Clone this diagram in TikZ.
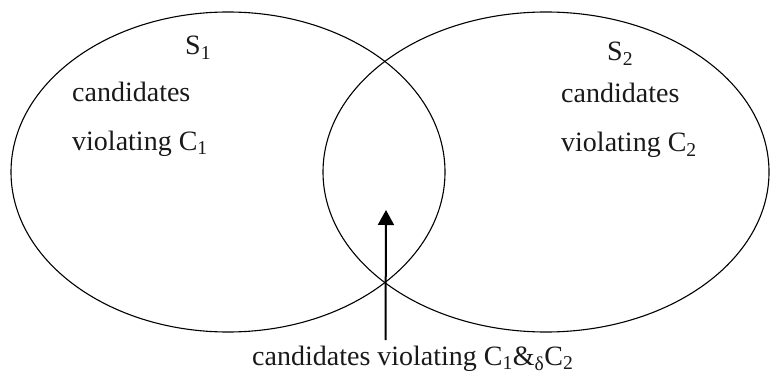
\documentclass[tikz,border=0pt]{standalone}
\usepackage{fontspec}
\setmainfont{Liberation Serif}
\usetikzlibrary{shapes.geometric,arrows.meta}
\begin{document}
\begin{tikzpicture}[x=1pt,y=-1pt,
  setshape/.style={draw, ellipse, inner sep=0pt, line width=1.1pt},
  lbl/.style={anchor=base west, inner sep=0pt, font=\fontsize{28}{30}\selectfont, text=black!90},
  pointer/.style={line width=2pt, -{Triangle[length=15pt,width=16pt]}}]
\useasboundingbox (0,0) rectangle (770,374);
\node[setshape, minimum width=434pt, minimum height=320pt] (left) at (228,172) {};
\node[setshape, minimum width=446pt, minimum height=320pt] (right) at (546,172) {};
\node[lbl] (s1) at (185,55) {S\textsubscript{1}};
\node[lbl] (c1a) at (72,102) {candidates};
\node[lbl] (c1b) at (72,150) {violating C\textsubscript{1}};
\node[lbl] (s2) at (607,61) {S\textsubscript{2}};
\node[lbl] (c2a) at (561,103) {candidates};
\node[lbl] (c2b) at (561,152) {violating C\textsubscript{2}};
\node[lbl] (both) at (252,365) {candidates violating C\textsubscript{1}\&\textsubscript{δ}C\textsubscript{2}};
\coordinate (tail) at (385.5,340);
\coordinate (tip) at (386,210);
\draw[pointer] (tail) -- (tip);
\end{tikzpicture}
\end{document}
